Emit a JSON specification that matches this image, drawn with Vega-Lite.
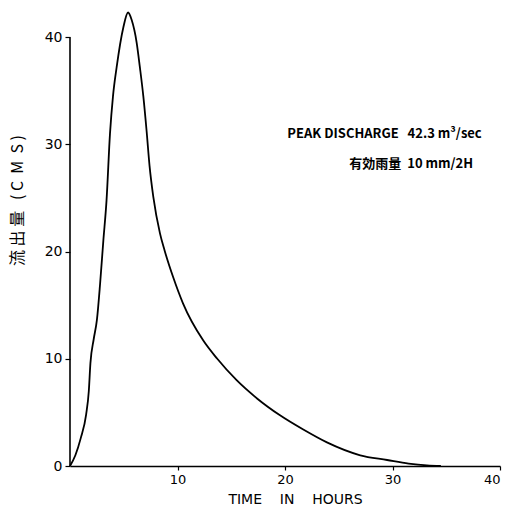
{
  "$schema": "https://vega.github.io/schema/vega-lite/v6.json",
  "width": 430,
  "height": 461,
  "autosize": {"type": "none"},
  "padding": {"left": 70, "top": 5, "right": 21, "bottom": 42},
  "config": {"view": {"stroke": null}, "font": "DejaVu Sans", "background": "white"},
  "layer": [
    {
      "data": {"values": [
        {"t": 0, "q": 0}, {"t": 0.5, "q": 1.0}, {"t": 1.0, "q": 2.6}, {"t": 1.5, "q": 4.8},
        {"t": 1.75, "q": 7.0}, {"t": 1.9, "q": 9.6}, {"t": 2.2, "q": 11.8}, {"t": 2.5, "q": 13.6},
        {"t": 2.8, "q": 17.0}, {"t": 3.1, "q": 21.0}, {"t": 3.4, "q": 24.8}, {"t": 3.72, "q": 31.0},
        {"t": 4.0, "q": 34.5}, {"t": 4.34, "q": 37.2}, {"t": 4.96, "q": 40.9}, {"t": 5.4, "q": 42.3},
        {"t": 5.74, "q": 41.6}, {"t": 6.2, "q": 39.5}, {"t": 6.5, "q": 37.2}, {"t": 6.82, "q": 34.5},
        {"t": 7.13, "q": 31.2}, {"t": 7.4, "q": 28.0}, {"t": 7.75, "q": 25.1}, {"t": 8.37, "q": 21.7},
        {"t": 8.8, "q": 20.1}, {"t": 9.6, "q": 17.6}, {"t": 10.5, "q": 15.2}, {"t": 12.4, "q": 11.7},
        {"t": 13.7, "q": 10.0}, {"t": 15.5, "q": 8.0}, {"t": 17.4, "q": 6.3}, {"t": 19.5, "q": 4.75},
        {"t": 21.7, "q": 3.4}, {"t": 23.9, "q": 2.2}, {"t": 27.0, "q": 1.0}, {"t": 29.5, "q": 0.56},
        {"t": 31.5, "q": 0.22}, {"t": 33.2, "q": 0.05}, {"t": 34.5, "q": 0}
      ]},
      "mark": {"type": "line", "interpolate": "monotone", "color": "black", "strokeWidth": 1.8},
      "encoding": {
        "x": {
          "field": "t", "type": "quantitative",
          "scale": {"domain": [0, 40], "nice": false},
          "axis": {
            "values": [10, 20, 30, 40], "grid": false,
            "domainColor": "black", "domainWidth": 1.6,
            "tickColor": "black", "tickSize": 4, "tickWidth": 1.2,
            "labelColor": "black", "labelFontSize": 13, "labelPadding": 3,
            "title": "TIME\u00a0\u00a0\u00a0\u00a0IN\u00a0\u00a0\u00a0\u00a0HOURS", "titleFontSize": 14, "titleFontWeight": "normal",
            "titleColor": "black", "titlePadding": 6, "titleX": 225
          }
        },
        "y": {
          "field": "q", "type": "quantitative",
          "scale": {"domain": [0, 43], "nice": false},
          "axis": {
            "values": [0, 10, 20, 30, 40], "grid": false, "domain": false,
            "tickColor": "black", "tickSize": 5, "tickWidth": 1.2,
            "labelColor": "black", "labelFontSize": 14, "labelPadding": 3,
            "title": "流\u00a0出\u00a0量\u00a0\u00a0\u00a0(\u00a0C\u00a0\u00a0M\u00a0\u00a0S\u00a0)", "titleFont": "Noto Sans CJK JP", "titleFontSize": 16,
            "titleFontWeight": "normal", "titleColor": "black",
            "titleX": -45, "titleY": 195
          }
        }
      }
    },
    {
      "data": {"values": [{"x": 0, "y": 0, "y2": 40}]},
      "mark": {"type": "rule", "color": "black", "strokeWidth": 1.6},
      "encoding": {
        "x": {"field": "x", "type": "quantitative"},
        "y": {"field": "y", "type": "quantitative"},
        "y2": {"field": "y2"}
      }
    },
    {
      "data": {"values": [
        {"x": 38.3, "y": 31.0, "label": "PEAK DISCHARGE\u00a0\u00a0\u00a042.3 m³/sec"},
        {"x": 37.5, "y": 28.2, "label": "有効雨量\u00a0\u00a010 mm/2H"}
      ]},
      "mark": {"type": "text", "align": "right", "baseline": "middle", "font": "Noto Sans CJK JP", "fontSize": 13, "fontWeight": "bold", "color": "black"},
      "encoding": {
        "x": {"field": "x", "type": "quantitative"},
        "y": {"field": "y", "type": "quantitative"},
        "text": {"field": "label"}
      }
    }
  ]
}
